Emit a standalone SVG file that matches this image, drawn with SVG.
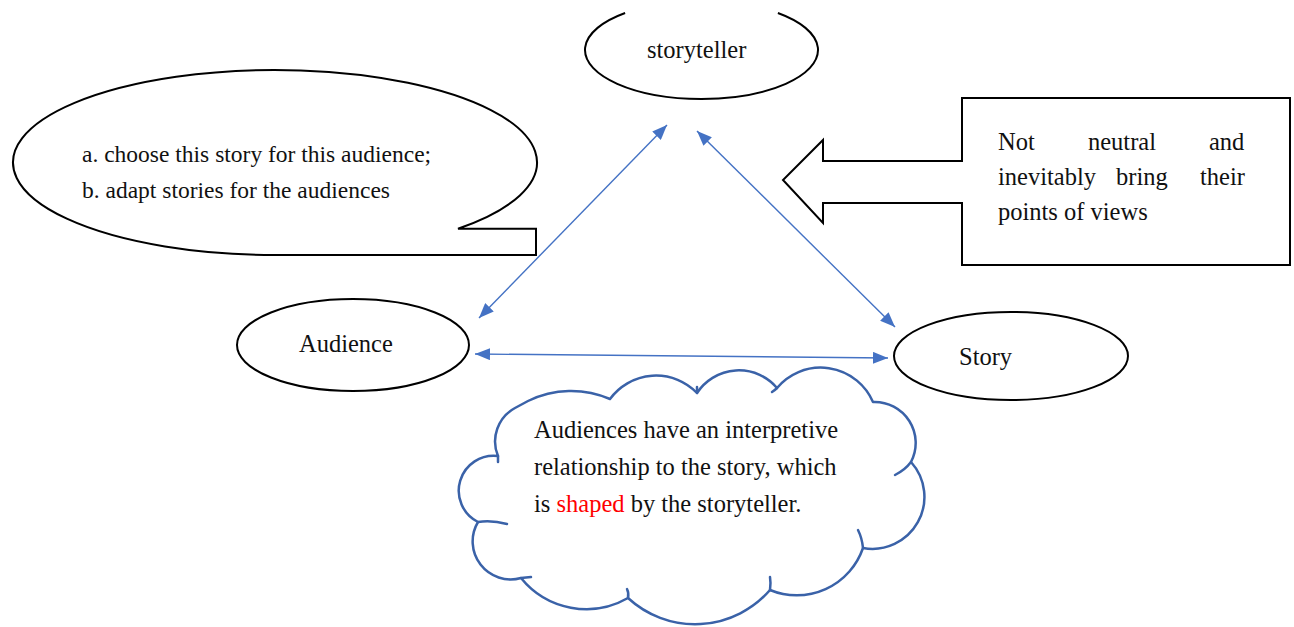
<svg xmlns="http://www.w3.org/2000/svg" width="1294" height="627" viewBox="0 0 1294 627">
<style>
.shape{fill:#fff;stroke:#000;stroke-width:2}
.t{font-family:"Liberation Serif","Times New Roman",serif;font-size:24.5px;fill:#111}
.tb{font-family:"Liberation Serif","Times New Roman",serif;font-size:23.5px;fill:#111}
.conn{fill:none;stroke:#4472C4;stroke-width:1.4}
.cloud{fill:#fff;stroke:#3A62A8;stroke-width:2.5;stroke-linejoin:round}
.stub{fill:none;stroke:#3A62A8;stroke-width:2.5;stroke-linecap:round}
</style>
<defs>
<marker id="ah" markerUnits="userSpaceOnUse" markerWidth="16" markerHeight="12" refX="15" refY="6" orient="auto-start-reverse">
<path d="M0,0 L15,6 L0,12 Z" fill="#4472C4"/>
</marker>
</defs>
<rect width="1294" height="627" fill="#fff"/>

<g id="connectors">
<line class="conn" x1="479" y1="318" x2="667" y2="125" marker-start="url(#ah)" marker-end="url(#ah)"/>
<line class="conn" x1="697" y1="131" x2="895" y2="327" marker-start="url(#ah)" marker-end="url(#ah)"/>
<line class="conn" x1="475" y1="354" x2="888" y2="358" marker-start="url(#ah)" marker-end="url(#ah)"/>
</g>

<g id="storyteller">
<path class="shape" d="M625.1,13 A116.5,49 0 1 0 777.9,13"/>
<text class="t" x="647" y="58">storyteller</text>
</g>

<g id="audience">
<ellipse class="shape" cx="353" cy="345" rx="116" ry="46"/>
<text class="t" x="299" y="352">Audience</text>
</g>

<g id="story">
<ellipse class="shape" cx="1011" cy="356" rx="117" ry="44"/>
<text class="t" x="959" y="365">Story</text>
</g>

<g id="speech-bubble">
<path class="shape" d="M458,228.7 L536,228.7 L536,255 L275,255 A262,92.5 0 1 1 458,228.7 Z"/>
<text class="tb" x="82" y="162">a. choose this story for this audience;</text>
<text class="tb" x="82" y="198">b. adapt stories for the audiences</text>
</g>

<g id="viewpoint-box">
<path class="shape" d="M962,98 L1290,98 L1290,265 L962,265 L962,203 L823,203 L823,223 L783,180 L823,140 L823,161 L962,161 Z"/>
<text class="t" y="150"><tspan x="998">Not</tspan><tspan x="1088">neutral</tspan><tspan x="1209">and</tspan></text>
<text class="t" y="185"><tspan x="998">inevitably</tspan><tspan x="1116">bring</tspan><tspan x="1200">their</tspan></text>
<text class="t" x="998" y="220">points of views</text>
</g>

<g id="cloud">
<path class="cloud" d="M515,408 L528,401 A98,98 0 0 1 610,399 A57,57 0 0 1 697,393 A50,50 0 0 1 777,388 A57,57 0 0 1 873,402 A41,41 0 0 1 911,462 A52,52 0 0 1 863,548 A70,70 0 0 1 770,590 A99,99 0 0 1 628,598 A84,84 0 0 1 521,578 A38,38 0 0 1 478,522 A35,35 0 0 1 498,456 A38,38 0 0 1 515,408 Z"/>
<path class="stub" d="M911,462 Q905,470 895,475"/>
<path class="stub" d="M863,548 Q862,538 858,530"/>
<path class="stub" d="M770,590 Q771,583 770,577"/>
<path class="stub" d="M628,598 Q629,593 627,589"/>
<path class="stub" d="M521,578 L531,577"/>
<path class="stub" d="M478,522 Q492,520 507,524"/>
<path class="stub" d="M498,456 L498,462"/>
<path class="stub" d="M777,388 Q775,390 772,392"/>
<path class="stub" d="M697,393 L697,387"/>
<text class="t" x="534" y="438">Audiences have an interpretive</text>
<text class="t" x="534" y="475">relationship to the story, which</text>
<text class="t" x="534" y="512">is <tspan fill="#FF0000">shaped</tspan> by the storyteller.</text>
</g>
</svg>
